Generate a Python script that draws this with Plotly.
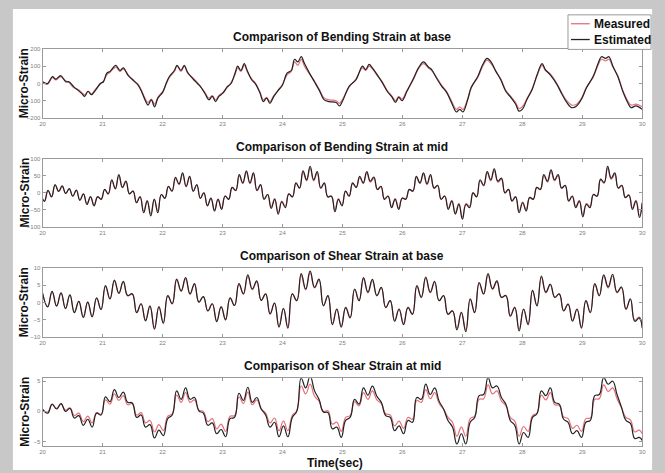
import plotly.graph_objects as go

# ---------------- data ----------------
X_TICKS = [20, 21, 22, 23, 24, 25, 26, 27, 28, 29, 30]
TITLES = ["Comparison of Bending Strain at base", "Comparison of Bending Strain at mid",
          "Comparison of Shear Strain at base", "Comparison of Shear Strain at mid"]
Y_RANGES = [[-200, 200], [-100, 100], [-10, 10], [-5.7, 5.5]]
Y_TICKS = [[-200, -100, 0, 100, 200], [-100, -50, 0, 50, 100], [-10, -5, 0, 5, 10], [-5, 0, 5]]
LEGEND_NAMES = ["Measured", "Estimated"]

# Bending strain at base
T_BB = [20.000, 20.082, 20.165, 20.220, 20.302, 20.385, 20.440, 20.522, 20.593, 20.659, 20.703, 20.758, 20.813,
        20.890, 20.962, 21.016, 21.071, 21.126, 21.220, 21.291, 21.346, 21.429, 21.511, 21.593, 21.648, 21.714,
        21.758, 21.813, 21.868, 21.923, 22.005, 22.060, 22.115, 22.198, 22.242, 22.308, 22.363, 22.418, 22.500,
        22.582, 22.637, 22.703, 22.775, 22.830, 22.885, 22.940, 23.011, 23.077, 23.143, 23.214, 23.253, 23.308,
        23.363, 23.418, 23.489, 23.544, 23.626, 23.681, 23.736, 23.791, 23.857, 23.929, 24.000, 24.077, 24.148,
        24.203, 24.258, 24.313, 24.368, 24.451, 24.533, 24.615, 24.698, 24.780, 24.896, 24.951, 25.005, 25.115,
        25.225, 25.335, 25.390, 25.445, 25.500, 25.582, 25.665, 25.747, 25.830, 25.885, 25.940, 25.995, 26.077,
        26.187, 26.269, 26.352, 26.434, 26.489, 26.571, 26.654, 26.736, 26.819, 26.901, 26.956, 27.011, 27.093,
        27.148, 27.258, 27.341, 27.412, 27.478, 27.560, 27.643, 27.725, 27.808, 27.890, 27.945, 28.000, 28.082,
        28.165, 28.247, 28.330, 28.385, 28.467, 28.577, 28.659, 28.742, 28.824, 28.907, 28.989, 29.071, 29.181,
        29.264, 29.319, 29.390, 29.445, 29.511, 29.593, 29.676, 29.758, 29.813, 29.896, 30.000]
EST_BB = [10, 0, 40, 25, 45, 10, 10, -20, -40, -60, -75, -45, -65, -35, 0, 10, 60, 70, 105, 75, 90, 45, 20, -10,
          -45, -100, -125, -95, -135, -85, -50, 0, 40, 75, 105, 75, 105, 65, 30, 0, -20, -55, -95, -75, -105, -75,
          -55, -20, 0, 65, 100, 75, 115, 70, 20, 0, -55, -105, -85, -115, -75, -40, -10, 60, 75, 140, 125, 155, 115,
          60, 10, -40, -95, -105,
          -110, -130, -100, -15, 20, 100, 80, 110, 90, 50, 5, -45, -80, -110, -80, -100, -45, 30, 90, 125, 95, 80,
          30, -15, -50, -110, -165, -150, -165, -90, -25, 40, 110, 145, 125, 70, 20, -45, -80, -120, -160, -150,
          -90, -35, 50, 115, 80, 50, -5, -60, -110, -140, -130, -90, -25, 40, 115, 155, 145, 155, 100, 40, -45,
          -110, -140, -130, -150]
MEAS_BB = [5, -5, 35, 20, 40, 15, 5, -25, -35, -55, -65, -45, -60, -30, -5, 15, 50, 65, 95, 70, 85, 50, 15, -5,
           -40, -90, -110, -90, -120, -80, -45, -5, 35, 70, 100, 70, 100, 60, 35, 5, -20, -50, -85, -70, -95, -70,
           -50, -25, 5, 55, 90, 70, 105, 65, 25, 5, -50, -95, -80, -105, -70, -40, -5, 50, 70, 125, 105, 140, 100,
           55, 15, -35, -85, -95,
           -100, -115, -90, -20, 25, 90, 75, 100, 85, 45, 10, -40, -75, -100, -75, -90, -40, 25, 85, 115, 90, 75,
           35, -10, -45, -100, -150, -135, -150, -85, -20, 35, 100, 135, 115, 70, 25, -40, -75, -110, -145, -135,
           -85, -30, 45, 105, 75, 55, 0, -55, -100, -125, -120, -85, -20, 35, 105, 140, 130, 140, 95, 45, -40,
           -100, -125, -120, -135]

# Bending strain at mid (ripple extrema times)
T_BM = [20.000, 20.032, 20.091, 20.150, 20.209, 20.268, 20.327, 20.386, 20.445, 20.504, 20.563, 20.622, 20.681,
        20.740, 20.799, 20.859, 20.918, 20.977, 21.036, 21.095, 21.154, 21.213, 21.272, 21.331, 21.390, 21.449,
        21.508, 21.567, 21.626, 21.686, 21.745, 21.804, 21.863, 21.922, 21.981, 22.040, 22.099, 22.158, 22.217,
        22.276, 22.335, 22.394, 22.453, 22.513, 22.572, 22.631, 22.690, 22.749, 22.808, 22.867, 22.926, 22.985,
        23.044, 23.103, 23.162, 23.221, 23.280, 23.339, 23.399, 23.458, 23.517, 23.576, 23.635, 23.694, 23.753,
        23.812, 23.871, 23.930, 23.989, 24.048, 24.107, 24.166, 24.226, 24.285, 24.344, 24.403, 24.462, 24.521,
        24.580, 24.639, 24.698, 24.757, 24.816, 24.875, 24.934, 24.993, 25.053, 25.112, 25.171, 25.230, 25.289,
        25.348, 25.407, 25.466, 25.525, 25.584, 25.643, 25.702, 25.761, 25.820, 25.880, 25.939, 25.998, 26.057,
        26.116, 26.175, 26.234, 26.293, 26.352, 26.411, 26.470, 26.529, 26.588, 26.647, 26.706, 26.766, 26.825,
        26.884, 26.943, 27.002, 27.061, 27.120, 27.179, 27.238, 27.297, 27.356, 27.415, 27.474, 27.533, 27.593,
        27.652, 27.711, 27.770, 27.829, 27.888, 27.947, 28.006, 28.065, 28.124, 28.183, 28.242, 28.301, 28.360,
        28.420, 28.479, 28.538, 28.597, 28.656, 28.715, 28.774, 28.833, 28.892, 28.951, 29.010, 29.069, 29.128,
        29.187, 29.247, 29.306, 29.365, 29.424, 29.483, 29.542, 29.601, 29.660, 29.719, 29.778, 29.837, 29.896,
        29.955, 30.000]
EST_BM = [-18,
          -25, 7, -12, 24, 4, 20, -2, 12, -10, 8,
          -22, -3, -34, -12, -38, -12, -19, 10, -3, 38,
          12, 53, 16, 34, -3, 5, -29, -12, -58, -24,
          -67, -19, -58, -5, -16, 19, 5, 45, 26, 58,
          19, 48, 5, 24, -16, 0, -38, -16, -53, -19,
          -48, -10, -19, 16, 7, 53, 29, 64, 29, 58,
          7, 24, -19, -5, -45, -19, -62, -26, -43, -3,
          -12, 29, 14, 64, 38, 77, 38, 62, 14, 29,
          -12, -10, -55, -19, -38, 5, -10, 29, 16, 48,
          29, 62, 34, 46, 10, 19, -19, -10, -43, -19,
          -48, -16, -19, 10, 5, 48, 29, 58, 26, 53,
          14, 22, -19, -10, -48, -24, -62, -34, -77, -34,
          -43, 0, -12, 38, 22, 62, 38, 70, 34, 43,
          0, 10, -24, -12, -58, -29, -53, -14, -19, 16,
          10, 53, 34, 67, 38, 53, 14, 22, -24, -10,
          -43, -24, -70, -34, -43, -5, -10, 40, 30, 77,
          43, 58, 14, 22, -14, -7, -48, -24, -72,
          -30]
MEAS_BM = [-17,
           -23, 6, -11, 22, 4, 18, -2, 11, -9, 7,
           -20, -3, -31, -11, -35, -11, -17, 9, -3, 35,
           11, 49, 15, 31, -3, 5, -27, -11, -53, -22,
           -61, -18, -53, -5, -15, 18, 5, 41, 24, 53,
           18, 44, 5, 22, -15, 0, -35, -15, -49, -18,
           -44, -9, -17, 15, 6, 49, 27, 59, 27, 53,
           6, 22, -17, -5, -41, -17, -57, -24, -39, -3,
           -11, 27, 13, 59, 35, 71, 35, 57, 13, 27,
           -11, -9, -50, -17, -35, 5, -9, 27, 15, 44,
           27, 57, 31, 42, 9, 17, -17, -9, -39, -17,
           -44, -15, -17, 9, 5, 44, 27, 53, 24, 49,
           13, 20, -17, -9, -44, -22, -57, -31, -71, -31,
           -39, 0, -11, 35, 20, 57, 35, 64, 31, 39,
           0, 9, -22, -11, -53, -27, -49, -13, -17, 15,
           9, 49, 31, 62, 35, 49, 13, 20, -22, -9,
           -39, -22, -64, -31, -39, -5, -9, 37, 28, 71,
           39, 53, 13, 20, -13, -6, -44, -22, -66,
           -28]

# Shear strain (ripple extrema times)
T_SH = [20.000, 20.085, 20.159, 20.234, 20.308, 20.382, 20.456, 20.530, 20.604, 20.679, 20.753, 20.827, 20.901,
        20.975, 21.049, 21.124, 21.198, 21.272, 21.346, 21.420, 21.495, 21.569, 21.643, 21.717, 21.791, 21.866,
        21.940, 22.014, 22.088, 22.162, 22.236, 22.311, 22.385, 22.459, 22.533, 22.607, 22.681, 22.756, 22.830,
        22.904, 22.978, 23.052, 23.127, 23.201, 23.275, 23.349, 23.423, 23.497, 23.572, 23.646, 23.720, 23.794,
        23.868, 23.943, 24.017, 24.091, 24.165, 24.239, 24.313, 24.388, 24.462, 24.536, 24.610, 24.684, 24.759,
        24.833, 24.907, 24.981, 25.055, 25.129, 25.204, 25.278, 25.352, 25.426, 25.500, 25.575, 25.649, 25.723,
        25.797, 25.871, 25.945, 26.020, 26.094, 26.168, 26.242, 26.316, 26.390, 26.465, 26.539, 26.613, 26.687,
        26.761, 26.836, 26.910, 26.984, 27.058, 27.132, 27.206, 27.281, 27.355, 27.429, 27.503, 27.577, 27.652,
        27.726, 27.800, 27.874, 27.948, 28.022, 28.097, 28.171, 28.245, 28.319, 28.393, 28.468, 28.542, 28.616,
        28.690, 28.764, 28.838, 28.913, 28.987, 29.061, 29.135, 29.209, 29.284, 29.358, 29.432, 29.506, 29.580,
        29.654, 29.729, 29.803, 29.877, 29.951, 30.000]
EST_SB = [2.7, -1.3, 3.2, -1.1, 2.8, -1.8, 2.2, -3.0, 0.3, -4.4,
          0.1, -4.2, 1.3, -2.1, 4.9, 1.0, 6.5, 2.7, 6.1, 2.0,
          2.5, -3.0, -0.4, -5.4, -1.1, -7.8, -1.3, -6.1, 2.0, -0.4,
          6.8, 3.4, 7.2, 2.5, 5.5, 0.1, 1.7, -2.5, -0.4, -5.6,
          -1.3, -5.1, 1.3, -0.9, 5.5, 2.5, 8.0, 3.9, 6.3, 0.6,
          2.5, -3.4, -0.2, -7.2, -1.8, -7.5, 2.5, 0.5, 8.4, 3.9,
          9.1, 4.4, 6.8, -1.0, 2.0, -6.5, -2.0, -7.2, -1.5, -4.5,
          3.9, 0.5, 7.2, 3.0, 6.7, 2.0, 4.4, -1.5, 0.5, -5.5,
          -2.0, -6.5, -1.5, -3.5, 4.9, 1.5, 7.4, 3.0, 6.1, 0.5,
          2.0, -3.5, -2.5, -8.0, -3.0, -8.5, 1.0, -3.0, 5.8, 2.5,
          8.4, 4.0, 6.3, 1.5, 2.0, -4.0, -1.5, -8.3, -2.0, -6.5,
          3.5, -1.0, 7.7, 3.0, 5.3, 1.5, 2.5, -2.5, -0.5, -5.5,
          -2.0, -7.5, 0.5, -3.0, 5.5, 2.0, 8.0, 4.5, 8.2, 3.0,
          4.5, -2.0, 1.0, -5.5, -4.5, -7.5]
MEAS_SB = [2.6, -1.2, 3.0, -1.0, 2.7, -1.7, 2.1, -2.8, 0.3, -4.1,
           0.1, -3.9, 1.2, -2.0, 4.6, 1.0, 6.1, 2.6, 5.8, 1.9,
           2.4, -2.8, -0.4, -5.1, -1.0, -7.3, -1.2, -5.8, 1.9, -0.4,
           6.4, 3.2, 6.8, 2.4, 5.2, 0.1, 1.6, -2.4, -0.4, -5.3,
           -1.2, -4.8, 1.2, -0.9, 5.2, 2.4, 7.5, 3.7, 5.9, 0.6,
           2.4, -3.2, -0.2, -6.8, -1.7, -7.1, 2.4, 0.5, 7.9, 3.7,
           8.6, 4.2, 6.4, -0.9, 1.9, -6.1, -1.9, -6.8, -1.4, -4.3,
           3.7, 0.5, 6.8, 2.8, 6.3, 1.9, 4.2, -1.4, 0.5, -5.2,
           -1.9, -6.1, -1.4, -3.3, 4.6, 1.4, 7.0, 2.8, 5.8, 0.5,
           1.9, -3.3, -2.4, -7.5, -2.8, -8.0, 0.9, -2.8, 5.5, 2.4,
           7.9, 3.8, 5.9, 1.4, 1.9, -3.8, -1.4, -7.8, -1.9, -6.1,
           3.3, -0.9, 7.3, 2.8, 5.0, 1.4, 2.4, -2.4, -0.5, -5.2,
           -1.9, -7.1, 0.5, -2.8, 5.2, 1.9, 7.5, 4.2, 7.7, 2.8,
           4.2, -1.9, 0.9, -5.2, -4.3, -7.1]
EST_SM = [0.4, -0.3, 1.2, 0.4, 1.3, 0.0, 0.5, -1.1, -0.7, -2.3,
          -1.3, -2.6, -0.3, -0.6, 2.4, 1.6, 3.6, 2.3, 3.2, 1.5,
          1.4, -1.0, -0.6, -2.6, -2.2, -4.4, -3.1, -4.0, -1.2, -0.6,
          3.4, 2.0, 3.9, 2.0, 2.3, 0.1, -0.3, -2.3, -1.9, -3.7,
          -3.0, -4.2, -1.2, -1.0, 3.0, 1.8, 4.0, 1.5, 2.3, 0.4,
          -0.6, -2.6, -1.8, -4.2, -2.4, -4.2, -1.0, 0.0, 5.5, 3.9,
          5.8, 3.4, 2.0, -0.1, -0.2, -2.9, -2.6, -4.3, -1.5, -1.0,
          2.0, 1.2, 3.9, 2.7, 4.2, 2.5, 1.5, -0.7, -1.0, -3.2,
          -2.4, -3.7, -1.5, -1.8, 2.3, 2.0, 4.5, 2.8, 3.9, 1.7,
          0.4, -1.5, -2.6, -5.4, -3.7, -5.4, -1.8, -1.0, 2.6, 2.8,
          5.6, 3.9, 4.2, 2.3, 1.2, -1.5, -2.3, -5.4, -3.5, -4.3,
          -1.0, -0.4, 3.4, 2.6, 3.9, 1.5, 1.2, -1.3, -1.8, -3.7,
          -3.2, -4.3, -1.8, -1.5, 2.6, 2.8, 5.6, 4.5, 5.0, 2.8,
          0.7, -1.5, -2.0, -4.5, -4.3, -4.8]
MEAS_SM = [0.3, -0.1, 1.1, 0.5, 1.2, 0.2, 0.6, -0.7, -0.3, -1.7,
           -0.8, -1.9, -0.2, -0.5, 1.9, 1.2, 2.9, 1.8, 2.6, 1.1,
           1.3, -0.6, -0.2, -1.9, -1.5, -3.4, -2.2, -3.2, -0.8, -0.4,
           2.7, 1.5, 3.1, 1.5, 1.9, 0.2, 0.0, -1.7, -1.2, -2.9,
           -2.1, -3.3, -0.8, -0.7, 2.4, 1.3, 3.2, 1.1, 1.9, 0.4,
           -0.3, -1.9, -1.1, -3.2, -1.6, -3.2, -0.7, 0.1, 4.2, 2.9,
           4.5, 2.5, 1.7, 0.0, 0.1, -2.1, -1.8, -3.3, -1.0, -0.7,
           1.6, 0.9, 3.1, 2.0, 3.4, 1.9, 1.3, -0.4, -0.6, -2.4,
           -1.6, -2.8, -1.0, -1.3, 1.8, 1.5, 3.6, 2.1, 3.1, 1.3,
           0.4, -1.0, -1.8, -4.1, -2.6, -4.1, -1.2, -0.8, 2.0, 2.1,
           4.4, 2.9, 3.4, 1.7, 1.0, -1.0, -1.6, -4.1, -2.5, -3.3,
           -0.7, -0.3, 2.7, 1.9, 3.1, 1.1, 1.0, -0.9, -1.2, -2.8,
           -2.3, -3.3, -1.2, -1.1, 2.0, 2.1, 4.4, 3.3, 3.9, 2.1,
           0.6, -1.0, -1.4, -3.4, -3.1, -3.7]

# ---------------- figure ----------------
W, H = 665, 473
RED = "#e5707a"
BLACK = "#222222"
AXC = "#9a9a9a"
FONT = "Liberation Sans, Arial, sans-serif"

panels = [(T_BB, MEAS_BB, EST_BB), (T_BM, MEAS_BM, EST_BM), (T_SH, MEAS_SB, EST_SB), (T_SH, MEAS_SM, EST_SM)]
SMOOTH = [1.0, 1.3, 1.3, 1.3]
tops = [46.5, 157.5, 268.5, 380.0]
bottoms = [116.5, 227.0, 338.0, 448.5]
XL, XR = 40, 646

fig = go.Figure()
layout = dict(width=W, height=H, margin=dict(l=0, r=0, t=0, b=0), paper_bgcolor="#c8c8c8",
              plot_bgcolor="white", showlegend=False, font=dict(family=FONT))
annotations = []
for i, (t, m, e) in enumerate(panels):
    n = "" if i == 0 else str(i + 1)
    fig.add_trace(go.Scatter(x=t, y=m, name=LEGEND_NAMES[0], mode="lines", xaxis="x" + n, yaxis="y" + n,
                             line=dict(color=RED, width=1.2, shape="spline", smoothing=SMOOTH[i])))
    fig.add_trace(go.Scatter(x=t, y=e, name=LEGEND_NAMES[1], mode="lines", xaxis="x" + n, yaxis="y" + n,
                             line=dict(color=BLACK, width=1.2, shape="spline", smoothing=SMOOTH[i])))
    common = dict(showline=True, linecolor=AXC, linewidth=1, mirror="ticks", ticks="inside", ticklen=3,
                  tickcolor=AXC, tickwidth=1, showgrid=False, zeroline=False,
                  tickfont=dict(size=6, color="#808080", family=FONT))
    layout["xaxis" + n] = dict(domain=[XL / W, XR / W], range=[20, 30], tickvals=X_TICKS,
                               anchor="y" + n, **common)
    layout["yaxis" + n] = dict(domain=[1 - bottoms[i] / H, 1 - tops[i] / H], range=Y_RANGES[i],
                               tickvals=Y_TICKS[i], anchor="x" + n, **common)
    annotations.append(dict(text="<b>" + TITLES[i] + "</b>", xref="paper", yref="paper",
                            x=(XL + XR) / 2 / W, y=1 - (tops[i] - 3) / H, xanchor="center", yanchor="bottom",
                            showarrow=False, font=dict(size=12, color="#111111", family=FONT)))
    annotations.append(dict(text="<b>Micro-Strain</b>", xref="paper", yref="paper", textangle=-90,
                            x=22 / W, y=1 - (tops[i] + bottoms[i]) / 2 / H, xanchor="center", yanchor="middle",
                            showarrow=False, font=dict(size=12, color="#111111", family=FONT)))

annotations.append(dict(text="<b>Time(sec)</b>", xref="paper", yref="paper", x=336 / W, y=1 - 466 / H,
                        xanchor="center", yanchor="middle", showarrow=False,
                        font=dict(size=12, color="#111111", family=FONT)))

# legend (drawn manually to match the small MATLAB legend box)
LX0, LX1, LY0, LY1 = 571, 655, 12, 47
shapes = [
    dict(type="rect", xref="paper", yref="paper", x0=10 / W, x1=656 / W, y0=0, y1=1 - 6 / H,
         fillcolor="white", line=dict(width=0), layer="below"),
    dict(type="rect", xref="paper", yref="paper", x0=LX0 / W, x1=LX1 / W, y0=1 - LY1 / H, y1=1 - LY0 / H,
         fillcolor="white", line=dict(color=AXC, width=1), layer="above"),
]
for j, (name, col) in enumerate(zip(LEGEND_NAMES, [RED, BLACK])):
    yy = 1 - (21 + 16 * j) / H
    shapes.append(dict(type="line", xref="paper", yref="paper", x0=574 / W, x1=593 / W, y0=yy, y1=yy,
                       line=dict(color=col, width=1.3), layer="above"))
    annotations.append(dict(text="<b>" + name + "</b>", xref="paper", yref="paper", x=595 / W, y=yy,
                            xanchor="left", yanchor="middle", showarrow=False,
                            font=dict(size=12, color="#111111", family=FONT)))

layout["annotations"] = annotations
layout["shapes"] = shapes
fig.update_layout(**layout)
fig.write_html("out.html")
